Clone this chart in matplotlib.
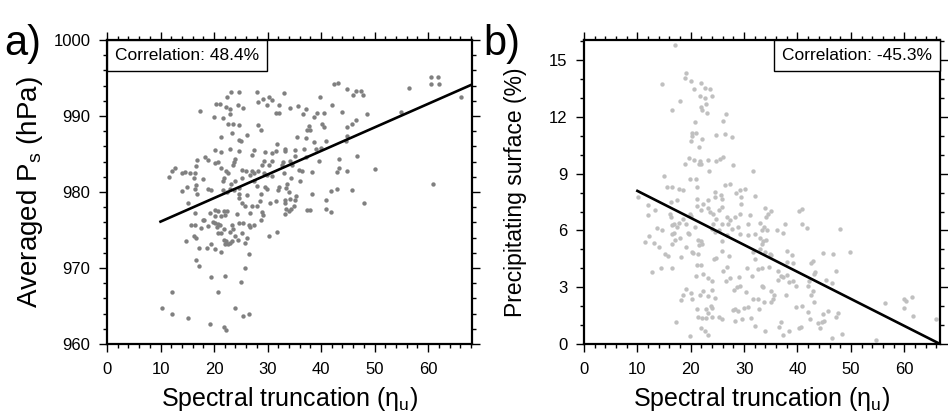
import numpy as np
import matplotlib
matplotlib.use("Agg")
import matplotlib.pyplot as plt
from matplotlib.ticker import MultipleLocator
from matplotlib.offsetbox import AnchoredText

plt.rcParams['font.family'] = ['Liberation Sans', 'DejaVu Sans']

# --- panel a: spectral truncation vs averaged surface pressure ---
a_pts = [
    (23.2, 993.2), (24.7, 993.2), (22.5, 992.5), (20.4, 991.6), (21.2, 991.6), (22.3, 991.2),
    (23.0, 990.9), (24.4, 991.4), (25.5, 991.0), (17.4, 990.6), (20.0, 989.9), (21.7, 989.8),
    (23.0, 990.2), (22.7, 988.9), (23.5, 988.9), (24.6, 988.8), (23.3, 987.8), (26.2, 987.5),
    (21.3, 987.2), (24.7, 986.8), (25.1, 986.7), (20.1, 985.5), (21.3, 985.2), (22.9, 985.7),
    (24.7, 985.4), (27.1, 984.9), (18.4, 984.6), (18.8, 984.2), (16.8, 984.2), (16.6, 983.4),
    (20.1, 983.8), (20.8, 984.0), (23.7, 984.0), (24.0, 984.4), (23.5, 983.5), (21.3, 983.2),
    (22.3, 982.7), (22.7, 982.5), (25.2, 982.9), (26.0, 982.8), (27.0, 982.7), (12.7, 983.1),
    (12.2, 982.7), (11.5, 982.0), (14.0, 982.5), (14.6, 982.6), (15.5, 982.5), (16.5, 982.5),
    (16.3, 981.9), (18.0, 981.7), (14.1, 980.1), (14.9, 980.6), (16.7, 980.9), (16.5, 980.4),
    (18.8, 980.4), (19.5, 980.3), (21.6, 981.4), (21.8, 981.8), (23.2, 981.1), (24.0, 981.4),
    (23.0, 980.4), (21.7, 980.3), (22.4, 980.0), (24.6, 980.5), (25.2, 981.8),
    (42.4, 994.2), (43.2, 994.3), (56.4, 993.7), (44.9, 993.5), (46.6, 993.3), (47.4, 993.3),
    (47.8, 992.8), (46.0, 992.8), (28.1, 993.2), (30.2, 992.5), (29.2, 992.3), (28.2, 991.8),
    (30.8, 992.1), (32.1, 991.5), (29.9, 991.4), (33.0, 993.0), (39.8, 992.5), (34.1, 991.1),
    (35.6, 991.3), (37.1, 990.9), (42.1, 991.5), (31.5, 990.4), (32.1, 990.4), (36.6, 990.2),
    (38.6, 989.9), (39.3, 990.4), (40.5, 990.4), (44.0, 990.5), (48.6, 990.2), (54.9, 990.5),
    (28.3, 988.8), (28.7, 988.2), (37.7, 988.7), (38.0, 988.2), (37.3, 988.2), (40.2, 988.9),
    (40.5, 988.5), (45.8, 988.9), (44.9, 988.5), (46.6, 989.5), (35.5, 987.3), (37.1, 987.1),
    (38.6, 986.6), (41.0, 986.7), (44.9, 987.4), (44.6, 986.7), (31.8, 986.3), (29.6, 985.2),
    (30.8, 985.1), (31.6, 985.4), (33.3, 985.7), (33.3, 985.4), (35.2, 985.5), (36.8, 985.7),
    (39.0, 985.7), (39.9, 985.8), (27.4, 985.5), (46.8, 984.8), (35.2, 984.8), (37.1, 984.6),
    (29.3, 984.1), (30.2, 983.6), (30.8, 984.1), (32.8, 984.0), (32.7, 983.6), (34.1, 984.1),
    (34.6, 983.6), (39.6, 984.1), (43.3, 984.3), (43.3, 983.1), (44.9, 982.8), (50.1, 983.0),
    (29.0, 983.5), (28.3, 982.7), (27.4, 982.5), (26.8, 982.3), (35.8, 982.9), (36.5, 982.7),
    (38.3, 982.6), (43.0, 982.6), (29.3, 982.5), (29.9, 982.3), (30.8, 982.1), (33.0, 982.5),
    (34.3, 981.8), (36.0, 981.4), (29.6, 980.6), (29.9, 980.4), (33.6, 981.0), (32.1, 980.6),
    (28.0, 980.8), (27.4, 981.4), (38.3, 979.8), (41.8, 980.1), (42.9, 980.4), (45.8, 980.3),
    (33.5, 980.5), (34.0, 980.0),
    (28.7, 979.7), (31.9, 980.3), (35.4, 979.5), (35.2, 978.9), (27.1, 978.2), (28.0, 978.1),
    (26.8, 977.2), (29.0, 977.4), (29.2, 977.0), (28.8, 976.3), (27.4, 975.7), (26.8, 975.4),
    (28.5, 978.8), (30.4, 978.5), (31.6, 978.8), (33.2, 978.9), (34.1, 979.1), (33.3, 978.5),
    (33.5, 977.7), (33.2, 977.1), (34.3, 977.8), (34.0, 977.5), (35.0, 978.2), (37.4, 977.6),
    (37.9, 977.6), (41.0, 978.9), (40.9, 977.7), (41.9, 977.4), (48.0, 978.6), (31.8, 974.8),
    (30.2, 974.2), (26.6, 971.8), (26.6, 964.0),
    (16.8, 979.8), (23.7, 980.3), (24.6, 979.7), (26.2, 979.6), (25.2, 978.5), (24.6, 979.2),
    (15.2, 978.6), (16.5, 977.2), (18.0, 976.3), (19.3, 977.2), (20.1, 977.6), (20.8, 977.5),
    (21.8, 977.5), (22.4, 977.5), (22.1, 977.0), (21.3, 976.8), (20.2, 976.8), (24.3, 977.1),
    (24.7, 975.9), (25.5, 975.9), (26.5, 975.7), (25.8, 978.2), (15.7, 975.7), (16.5, 975.7),
    (17.6, 975.2), (18.2, 976.3), (18.9, 975.5), (19.8, 976.1), (20.2, 975.9), (20.8, 975.8),
    (20.5, 975.4), (21.2, 975.7), (16.3, 974.2), (16.6, 974.0), (21.8, 975.1), (23.3, 975.7),
    (23.5, 975.1), (23.0, 974.8), (23.9, 974.2), (25.2, 974.6), (20.8, 974.6), (21.3, 974.6),
    (21.8, 973.7), (22.3, 973.5), (22.6, 973.2), (22.9, 973.3), (22.0, 973.2), (23.3, 973.5),
    (24.5, 973.7), (26.2, 973.9), (25.8, 973.3), (19.5, 973.2), (20.2, 972.5), (21.3, 972.1),
    (18.7, 972.6), (17.2, 972.6), (14.7, 973.5), (25.7, 970.0), (25.0, 968.2), (16.7, 971.0),
    (17.1, 970.2), (19.4, 968.8), (22.0, 969.0), (20.8, 966.9), (12.1, 966.9), (10.2, 964.8),
    (12.1, 964.0), (15.2, 963.4), (19.2, 962.6), (21.8, 962.3), (22.2, 961.8), (24.0, 964.8),
    (25.5, 963.7),
    (60.5, 995.1), (61.8, 995.1), (60.5, 994.2), (62.0, 994.2), (66.2, 992.5), (61.0, 981.0),
]
a_fit = (0.31, 973.0)          # slope, intercept of the regression line
a_corr = "Correlation: 48.4%"

# --- panel b: spectral truncation vs precipitating surface ---
b_pts = [
    (17.0, 15.8), (19.2, 14.34), (19.0, 14.07), (20.0, 13.90), (14.6, 13.74), (21.9, 13.81),
    (22.7, 13.55), (23.6, 13.46), (20.6, 13.46), (21.7, 13.12), (22.7, 13.02), (24.0, 13.12),
    (18.0, 12.86), (22.8, 12.68), (21.9, 12.51), (22.2, 12.36), (23.1, 12.19), (16.4, 12.36),
    (26.6, 12.14), (26.1, 11.80), (20.8, 11.74), (20.2, 11.13), (20.9, 11.18), (20.3, 11.00),
    (20.0, 10.74), (22.2, 10.86), (24.7, 11.04), (26.4, 11.09), (27.8, 10.95), (21.6, 10.39),
    (19.7, 9.84), (20.6, 9.71), (21.7, 9.68), (21.5, 9.54), (22.0, 9.49), (23.2, 9.71),
    (19.0, 9.50), (24.8, 9.66), (25.5, 9.77), (26.0, 9.86), (28.0, 9.45), (23.4, 9.13),
    (31.6, 9.15), (15.0, 8.88), (19.9, 8.74), (20.9, 8.71), (15.5, 8.30), (16.5, 8.30),
    (17.8, 8.18), (21.2, 8.30), (26.4, 8.43), (27.3, 8.44), (24.5, 8.03), (25.7, 7.86),
    (28.5, 7.98), (29.3, 8.12), (30.1, 8.18),
    (10.2, 7.77), (11.9, 7.37), (12.0, 6.82), (13.3, 7.06), (13.7, 6.15), (14.7, 6.00),
    (12.2, 5.70), (11.4, 5.41), (13.1, 5.33), (14.0, 5.12), (12.8, 3.79), (14.4, 4.01),
    (16.4, 4.01), (15.2, 4.77), (15.7, 4.64), (16.3, 7.50), (17.4, 7.59), (16.1, 6.89),
    (16.3, 6.71), (16.9, 6.36), (16.4, 6.27), (17.4, 6.18), (17.8, 6.39), (18.6, 6.62),
    (16.5, 5.83), (16.9, 5.86), (16.4, 5.30), (17.0, 5.51), (18.0, 5.62), (18.6, 8.12),
    (19.9, 6.85), (20.0, 6.75), (19.2, 6.36), (19.5, 5.86), (20.8, 6.18), (21.1, 7.68),
    (21.1, 7.28), (21.9, 7.06), (22.3, 7.42), (23.2, 7.59), (23.3, 7.20), (23.6, 6.97),
    (24.2, 6.89), (24.5, 7.77), (25.8, 7.68), (25.8, 7.24), (25.2, 7.06), (24.8, 6.62),
    (24.2, 6.36), (23.9, 6.09), (25.8, 6.36), (26.7, 6.71), (27.3, 6.53), (27.0, 6.36),
    (28.3, 6.71), (29.2, 6.89), (29.4, 7.42), (29.5, 7.77), (31.1, 6.80), (30.8, 6.36),
    (28.9, 6.18), (27.7, 6.09), (26.7, 5.74), (25.8, 5.44), (25.2, 6.00), (24.5, 5.91),
    (29.2, 5.83), (30.8, 5.74), (32.0, 5.83), (19.7, 5.83), (21.4, 5.51), (22.0, 5.47),
    (22.2, 5.30), (21.5, 5.21), (20.2, 4.86), (20.5, 4.80), (21.4, 4.77), (19.2, 5.12),
    (18.2, 4.59), (21.1, 4.20), (21.9, 4.15), (20.9, 3.62), (22.3, 3.71), (23.2, 3.50),
    (23.9, 3.35), (24.4, 4.50), (24.8, 4.56), (25.8, 4.89), (27.2, 4.64), (26.1, 3.85),
    (26.7, 4.06), (27.3, 3.48), (26.6, 3.35), (28.1, 2.86), (29.1, 3.53), (29.3, 3.09),
    (28.6, 3.00), (30.6, 4.03), (31.7, 4.86), (32.0, 4.50), (31.4, 3.62), (30.3, 2.73),
    (31.7, 2.38), (19.2, 2.91), (18.6, 2.61), (18.2, 2.35), (20.0, 2.68), (20.3, 2.38),
    (21.7, 2.61), (22.3, 2.82), (23.2, 2.56), (23.9, 2.86), (24.5, 2.44), (23.8, 2.03),
    (24.0, 1.91), (22.8, 1.85), (21.1, 1.85), (21.3, 1.45), (22.2, 1.38), (22.8, 1.38),
    (23.2, 1.62), (23.9, 1.41), (25.2, 1.45), (25.8, 1.32), (28.3, 1.85), (28.9, 1.76),
    (28.0, 1.80), (30.0, 1.91), (30.8, 1.98), (28.3, 1.23), (29.6, 1.32), (31.3, 1.38),
    (32.0, 0.97), (17.2, 1.18), (19.9, 0.44), (21.9, 0.85), (22.7, 0.67), (23.2, 0.49),
    (32.0, 7.82), (33.9, 7.20), (35.1, 7.03), (34.5, 6.85), (34.1, 6.71), (40.3, 7.03),
    (40.8, 7.15), (37.6, 6.36), (40.9, 6.32), (41.8, 6.15), (33.0, 6.41), (33.7, 6.18),
    (33.3, 6.00), (34.3, 6.00), (36.1, 6.04), (37.3, 5.86), (47.9, 6.06), (33.0, 5.62),
    (33.6, 5.47), (33.3, 5.30), (34.1, 5.51), (33.0, 5.03), (33.9, 4.86), (34.8, 4.77),
    (35.1, 4.73), (38.1, 4.94), (38.9, 4.68), (44.7, 4.80), (46.7, 4.77), (49.8, 4.86),
    (42.9, 4.41), (42.6, 4.27), (38.1, 4.33), (39.2, 4.27), (32.6, 3.97), (33.3, 4.03),
    (34.6, 4.06), (36.4, 3.88), (37.0, 3.62), (38.0, 3.67), (36.3, 3.39), (37.3, 3.56),
    (38.5, 3.27), (39.1, 3.32), (39.8, 3.09), (42.2, 3.35), (43.1, 3.71), (43.3, 3.80),
    (45.4, 3.39), (46.4, 3.21), (47.2, 3.88), (33.3, 3.09), (33.6, 3.00), (35.0, 2.82),
    (35.6, 2.61), (35.5, 2.38), (35.1, 2.20), (37.8, 2.61), (42.0, 3.04), (42.9, 2.79),
    (42.6, 2.61), (43.1, 2.20), (32.6, 2.38), (33.7, 2.20), (32.8, 1.85), (39.7, 1.94),
    (40.8, 1.99), (42.0, 1.67), (42.3, 1.32), (44.7, 1.59), (45.8, 1.73), (47.2, 1.41),
    (47.6, 1.64), (43.9, 1.09), (44.5, 1.14), (44.9, 1.20), (44.3, 0.85), (37.0, 1.14),
    (36.6, 0.92), (37.2, 0.49), (38.5, 0.67), (40.3, 0.85), (40.6, 0.92), (33.9, 0.67),
    (46.4, 0.32), (48.4, 0.53), (54.8, 0.23), (56.4, 2.19), (59.9, 2.38), (60.4, 2.26),
    (61.4, 2.51), (59.9, 1.91), (61.6, 1.46), (66.0, 1.30),
]
b_fit = (-0.1427, 9.52)
b_corr = "Correlation: -45.3%"

xlabel = "Spectral truncation (η$_\\mathregular{u}$)"


def style_axes(ax, xmax, ylim, ymajor, yminor):
    ax.set_xlim(0, xmax)
    ax.set_ylim(*ylim)
    ax.xaxis.set_major_locator(MultipleLocator(10))
    ax.xaxis.set_minor_locator(MultipleLocator(2))
    ax.yaxis.set_major_locator(MultipleLocator(ymajor))
    ax.yaxis.set_minor_locator(MultipleLocator(yminor))
    ax.tick_params(which='both', direction='out', top=True, right=True, width=1)
    ax.tick_params(which='major', length=6, labelsize=12)
    ax.tick_params(axis='x', which='major', pad=7)
    ax.tick_params(axis='y', which='major', pad=6)
    ax.tick_params(which='minor', length=3)
    for sp in ax.spines.values():
        sp.set_linewidth(1.6)
    ax.set_xlabel(xlabel, fontsize=18)
    ax.xaxis.set_label_coords(0.5, -0.135)


def corr_box(ax, txt, loc):
    at = AnchoredText(txt, loc=loc, prop=dict(size=12.5), frameon=True, pad=0.45, borderpad=0)
    at.patch.set_boxstyle("square,pad=0")
    at.patch.set_linewidth(1)
    ax.add_artist(at)


fig = plt.figure(figsize=(9.48, 4.16), dpi=100)
ax1 = fig.add_axes([107/948, 1-344/416, 365/948, 304/416])
ax2 = fig.add_axes([584/948, 1-344/416, 356/948, 304/416])

# panel a
xa, ya = np.array(a_pts).T
ax1.scatter(xa, ya, s=10, color='#808080', linewidths=0, zorder=2)
xmax_a = 68.2
xl = np.array([10, xmax_a])
ax1.plot(xl, a_fit[0]*xl + a_fit[1], color='black', lw=1.9, zorder=3)
style_axes(ax1, xmax_a, (960, 1000), 10, 2)
ax1.set_ylabel("Averaged P$_\\mathregular{s}$ (hPa)", fontsize=20)
ax1.yaxis.set_label_coords(-0.17, 0.5)
corr_box(ax1, a_corr, 'upper left')

# panel b
xb, yb = np.array(b_pts).T
ax2.scatter(xb, yb, s=10, color='#c0c0c0', linewidths=0, zorder=2)
xmax_b = 66.7
xl = np.array([10, xmax_b])
ax2.plot(xl, b_fit[0]*xl + b_fit[1], color='black', lw=1.9, zorder=3)
style_axes(ax2, xmax_b, (0, 16.07), 3, 1)
ax2.set_ylabel("Precipitating surface (%)", fontsize=16.5)
ax2.yaxis.set_label_coords(-0.16, 0.5)
corr_box(ax2, b_corr, 'upper right')

fig.text(4/948, 1-55/416, "a)", fontsize=30, va='baseline')
fig.text(483/948, 1-55/416, "b)", fontsize=30, va='baseline')

fig.savefig("out.png", dpi=100)
